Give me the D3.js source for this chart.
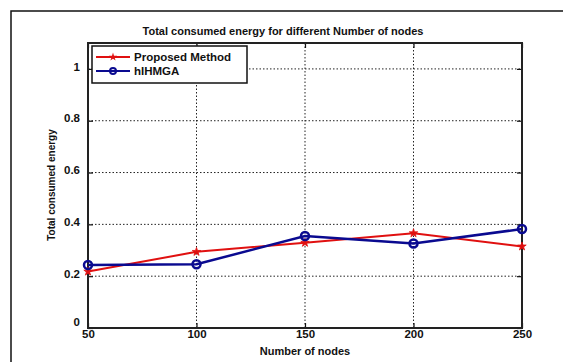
<!DOCTYPE html>
<html>
<head>
<meta charset="utf-8">
<script src="https://d3js.org/d3.v7.min.js"></script>
<style>
body { margin: 0; background: #fff; }
svg { display: block; font-family: "Liberation Sans", Arial, sans-serif; }
</style>
</head>
<body>
<svg id="svg" width="563" height="362"></svg>
<script>
// data
let nodes = [50, 100, 150, 200, 250];
let proposed = [0.218, 0.294, 0.329, 0.366, 0.315];
let hihmga = [0.243, 0.246, 0.355, 0.326, 0.382];
let yTicks = [0, 0.2, 0.4, 0.6, 0.8, 1];
let yTickLabels = ["0", "0.2", "0.4", "0.6", "0.8", "1"];
let seriesNames = ["Proposed Method", "hIHMGA"];

let plotLeft = 88, plotRight = 522, plotTop = 43, plotBottom = 328;

let svg = d3.select("svg");

// outer frame
svg.append("rect")
  .attr("x", 11).attr("y", 11).attr("width", 600).attr("height", 400)
  .attr("fill", "none").attr("stroke", "#111").attr("stroke-width", 1.5);

let x = d3.scaleLinear().domain([50, 250]).range([plotLeft, plotRight]);
let y = d3.scaleLinear().domain([0, 1.1]).range([plotBottom, plotTop]);

// grid
let grid = svg.append("g").attr("stroke", "#222").attr("stroke-width", 1)
  .attr("stroke-dasharray", "1.5,2");
nodes.slice(1, -1).forEach(function(d) {
  grid.append("line").attr("x1", x(d)).attr("x2", x(d)).attr("y1", plotTop).attr("y2", plotBottom);
});
yTicks.slice(1).forEach(function(d) {
  grid.append("line").attr("x1", plotLeft).attr("x2", plotRight).attr("y1", y(d)).attr("y2", y(d));
});

// axes (ticks inside, box all round)
let xAxis = d3.axisBottom(x).tickValues(nodes).tickSize(-5).tickPadding(8);
let gx = svg.append("g").attr("transform", "translate(0," + plotBottom + ")").call(xAxis);
let yAxis = d3.axisLeft(y).tickValues(yTicks).tickSize(-5).tickPadding(8)
  .tickFormat(function(d, i) { return yTickLabels[i]; });
let gy = svg.append("g").attr("transform", "translate(" + plotLeft + ",0)").call(yAxis);
svg.append("g").attr("transform", "translate(0," + plotTop + ")")
  .call(d3.axisTop(x).tickValues(nodes).tickSize(-5).tickFormat(""));
svg.append("g").attr("transform", "translate(" + plotRight + ",0)")
  .call(d3.axisRight(y).tickValues(yTicks).tickSize(-5).tickFormat(""));

svg.selectAll(".domain").remove();
svg.selectAll(".tick line").attr("stroke", "#111").attr("stroke-width", 1.2);
svg.selectAll(".tick text").attr("font-size", 11.5).attr("font-weight", "bold")
  .attr("font-family", "Liberation Sans, Arial, sans-serif").attr("fill", "#111");
gx.selectAll(".tick text").attr("dy", "0.2em");
gy.selectAll(".tick text").attr("dy", "0.1em");
gy.selectAll(".tick text").filter(function(d) { return d === 0; }).attr("dy", "-0.2em");

svg.append("rect")
  .attr("x", plotLeft).attr("y", plotTop).attr("width", plotRight - plotLeft).attr("height", plotBottom - plotTop)
  .attr("fill", "none").attr("stroke", "#222").attr("stroke-width", 2);

// series
let line = d3.line().x(function(d, i) { return x(nodes[i]); }).y(function(d) { return y(d); });

svg.append("path").datum(proposed).attr("d", line)
  .attr("fill", "none").attr("stroke", "#e01010").attr("stroke-width", 2);
let star = d3.symbol().type(d3.symbolStar).size(22);
svg.selectAll(".pm").data(proposed).enter().append("path")
  .attr("class", "pm")
  .attr("transform", function(d, i) { return "translate(" + x(nodes[i]) + "," + y(d) + ")"; })
  .attr("d", star).attr("fill", "#e01010").attr("stroke", "#e01010").attr("stroke-width", 0.8);

svg.append("path").datum(hihmga).attr("d", line)
  .attr("fill", "none").attr("stroke", "#0a0a90").attr("stroke-width", 2.5);
svg.selectAll(".hg").data(hihmga).enter().append("circle")
  .attr("class", "hg")
  .attr("cx", function(d, i) { return x(nodes[i]); })
  .attr("cy", function(d) { return y(d); })
  .attr("r", 4).attr("fill", "none").attr("stroke", "#0a0a90").attr("stroke-width", 2.5);

// legend
let lg = svg.append("g");
lg.append("rect").attr("x", 92).attr("y", 46).attr("width", 155).attr("height", 37)
  .attr("fill", "#fff").attr("stroke", "#111").attr("stroke-width", 1.5);
let rows = [
  { name: seriesNames[0], color: "#e01010", y: 57 },
  { name: seriesNames[1], color: "#0a0a90", y: 71 }
];
rows.forEach(function(r, i) {
  lg.append("line").attr("x1", 96).attr("x2", 130).attr("y1", r.y).attr("y2", r.y)
    .attr("stroke", r.color).attr("stroke-width", 2);
  if (i === 0) {
    lg.append("path").attr("transform", "translate(113," + r.y + ")").attr("d", star).attr("fill", r.color);
  } else {
    lg.append("circle").attr("cx", 113).attr("cy", r.y).attr("r", 3)
      .attr("fill", "none").attr("stroke", r.color).attr("stroke-width", 2);
  }
  lg.append("text").attr("x", 134).attr("y", r.y + 4).text(r.name)
    .attr("font-size", 11.5).attr("font-weight", "bold").attr("fill", "#111");
});

// titles
svg.append("text").attr("x", 283).attr("y", 35).attr("text-anchor", "middle")
  .attr("font-size", 11).attr("font-weight", "bold").attr("fill", "#111")
  .text("Total consumed energy for different Number of nodes");
svg.append("text").attr("x", 305).attr("y", 355).attr("text-anchor", "middle")
  .attr("font-size", 11).attr("font-weight", "bold").attr("fill", "#111")
  .text("Number of nodes");
svg.append("text").attr("transform", "translate(55,185) rotate(-90)").attr("text-anchor", "middle")
  .attr("font-size", 10).attr("font-weight", "bold").attr("fill", "#111")
  .text("Total consumed energy");
</script>
</body>
</html>
